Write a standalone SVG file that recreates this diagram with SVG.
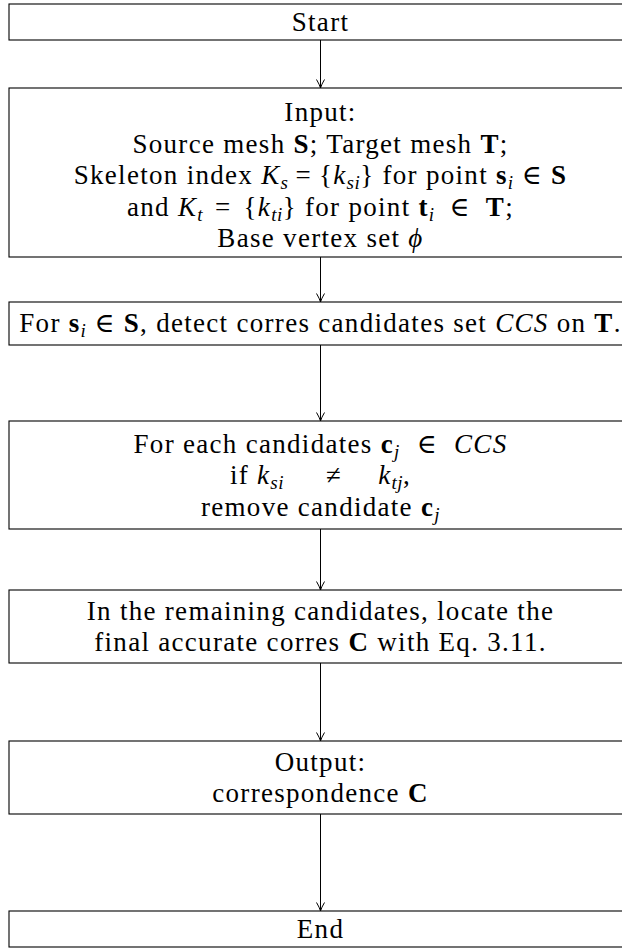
<svg xmlns="http://www.w3.org/2000/svg" width="622" height="949" viewBox="0 0 622 949">
<defs>
<style>
.box{fill:#fff;stroke:#000;stroke-width:1.1}
.t{font-family:"Liberation Serif","DejaVu Serif",serif;font-size:27px;letter-spacing:1.3px;fill:#000;text-anchor:middle}
.i{font-style:italic}
.b{font-weight:bold}
.s{font-size:19px;font-style:italic;letter-spacing:0.5px}
.edge{stroke:#000;stroke-width:1;fill:none;marker-end:url(#ah)}
</style>
<marker id="ah" viewBox="0 0 10 10" refX="9.5" refY="5" markerWidth="10" markerHeight="10" markerUnits="userSpaceOnUse" orient="auto">
<path d="M1,1 Q6,4 9.5,5 Q6,6 1,9" fill="none" stroke="#000" stroke-width="1"/>
</marker>
</defs>
<rect width="622" height="949" fill="#fff"/>
<g id="connectors">
<line class="edge" x1="320.5" y1="40" x2="320.5" y2="88"/>
<line class="edge" x1="320.5" y1="257" x2="320.5" y2="302"/>
<line class="edge" x1="320.5" y1="345" x2="320.5" y2="421"/>
<line class="edge" x1="320.5" y1="529" x2="320.5" y2="590"/>
<line class="edge" x1="320.5" y1="663" x2="320.5" y2="741"/>
<line class="edge" x1="320.5" y1="814" x2="320.5" y2="911"/>
</g>
<g id="start">
<rect class="box" x="9" y="4" width="623" height="36"/>
<text class="t" x="320.5" y="31">Start</text>
</g>
<g id="input">
<rect class="box" x="9" y="88" width="623" height="169"/>
<text class="t" x="320.5" y="121">Input:</text>
<text class="t" x="320.5" y="152.5">Source mesh <tspan class="b">S</tspan>; Target mesh <tspan class="b">T</tspan>;</text>
<text class="t" x="320.5" y="184">Skeleton index <tspan class="i">K</tspan><tspan class="s" dy="5">s</tspan><tspan dy="-5" dx="7">=</tspan><tspan dx="7">{</tspan><tspan class="i">k</tspan><tspan class="s" dy="5">si</tspan><tspan dy="-5">} for point </tspan><tspan class="b">s</tspan><tspan class="s" dy="5">i</tspan><tspan dy="-5"> ∈ </tspan><tspan class="b">S</tspan></text>
<text class="t" x="320.5" y="215.5">and <tspan class="i">K</tspan><tspan class="s" dy="5">t</tspan><tspan dy="-5" dx="12">=</tspan><tspan dx="12">{</tspan><tspan class="i">k</tspan><tspan class="s" dy="5">ti</tspan><tspan dy="-5">} for point </tspan><tspan class="b">t</tspan><tspan class="s" dy="5">i</tspan><tspan dy="-5" dx="15">∈</tspan><tspan dx="15" class="b">T</tspan><tspan>;</tspan></text>
<text class="t" x="320.5" y="247">Base vertex set <tspan class="i">ϕ</tspan></text>
</g>
<g id="detect">
<rect class="box" x="9" y="302" width="623" height="43"/>
<text class="t" x="320.5" y="332">For <tspan class="b">s</tspan><tspan class="s" dy="5">i</tspan><tspan dy="-5"> ∈ </tspan><tspan class="b">S</tspan>, detect corres candidates set <tspan class="i">CCS</tspan> on <tspan class="b">T</tspan>.</text>
</g>
<g id="filter">
<rect class="box" x="9" y="421" width="623" height="108"/>
<text class="t" x="320.5" y="453">For each candidates <tspan class="b">c</tspan><tspan class="s" dy="5">j</tspan><tspan dy="-5" dx="17">∈</tspan><tspan dx="16" class="i">CCS</tspan></text>
<text class="t" x="320.5" y="484">if <tspan class="i">k</tspan><tspan class="s" dy="5">si</tspan><tspan dy="-5" dx="42">≠</tspan><tspan dx="36" class="i">k</tspan><tspan class="s" dy="5">tj</tspan><tspan dy="-5">,</tspan></text>
<text class="t" x="320.5" y="516">remove candidate <tspan class="b">c</tspan><tspan class="s" dy="5">j</tspan></text>
</g>
<g id="locate">
<rect class="box" x="9" y="590" width="623" height="73"/>
<text class="t" x="320.5" y="620">In the remaining candidates, locate the</text>
<text class="t" x="320.5" y="651">final accurate corres <tspan class="b">C</tspan> with Eq. 3.11.</text>
</g>
<g id="output">
<rect class="box" x="9" y="741" width="623" height="73"/>
<text class="t" x="320.5" y="771">Output:</text>
<text class="t" x="320.5" y="802">correspondence <tspan class="b">C</tspan></text>
</g>
<g id="end">
<rect class="box" x="9" y="911" width="623" height="36"/>
<text class="t" x="320.5" y="938">End</text>
</g>
</svg>
